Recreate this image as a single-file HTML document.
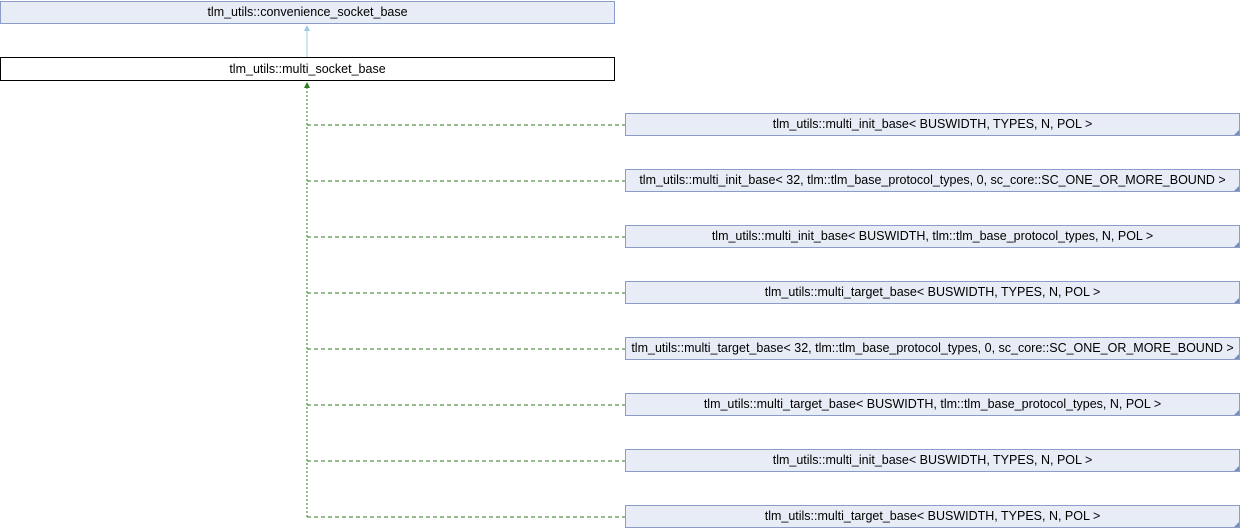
<!DOCTYPE html>
<html><head><style>
body{margin:0;width:1240px;height:528px;background:#fff;position:relative;overflow:hidden;font-family:"Liberation Sans",sans-serif;font-size:12.5px;}
.b{position:absolute;box-sizing:border-box;background:#e8ecf6;border:1px solid #8a9cc8;text-align:center;line-height:21px;color:#000;white-space:nowrap;}
.r{left:625px;width:615px;height:23px;}
.r:after{content:"";position:absolute;right:0;bottom:0;border-left:5px solid transparent;border-bottom:5px solid #7b8fc0;}
</style></head><body>
<div class="b" style="left:0;top:1px;width:615px;height:23px;">tlm_utils::convenience_socket_base</div>
<div class="b" style="left:0;top:57px;width:615px;height:24px;background:#fff;border-color:#000;line-height:22px;">tlm_utils::multi_socket_base</div>
<svg width="1240" height="528" style="position:absolute;left:0;top:0">
<line x1="307" y1="30" x2="307" y2="57" stroke="#9ccbe6"/>
<polygon points="307,25 304,31 310,31" fill="#9ccbe6"/>
<line x1="307" y1="87" x2="307" y2="517" stroke="#2e7d1e" stroke-dasharray="2,2"/>
<polygon points="307,82 304,88 310,88" fill="#2e7d1e"/>
<g stroke="#2e7d1e" stroke-dasharray="4,3">
<line x1="307" y1="125" x2="625" y2="125"/><line x1="307" y1="181" x2="625" y2="181"/>
<line x1="307" y1="237" x2="625" y2="237"/><line x1="307" y1="293" x2="625" y2="293"/>
<line x1="307" y1="349" x2="625" y2="349"/><line x1="307" y1="405" x2="625" y2="405"/>
<line x1="307" y1="461" x2="625" y2="461"/><line x1="307" y1="517" x2="625" y2="517"/>
</g></svg>
<div class="b r" style="top:113px">tlm_utils::multi_init_base&lt; BUSWIDTH, TYPES, N, POL &gt;</div>
<div class="b r" style="top:169px">tlm_utils::multi_init_base&lt; 32, tlm::tlm_base_protocol_types, 0, sc_core::SC_ONE_OR_MORE_BOUND &gt;</div>
<div class="b r" style="top:225px">tlm_utils::multi_init_base&lt; BUSWIDTH, tlm::tlm_base_protocol_types, N, POL &gt;</div>
<div class="b r" style="top:281px">tlm_utils::multi_target_base&lt; BUSWIDTH, TYPES, N, POL &gt;</div>
<div class="b r" style="top:337px">tlm_utils::multi_target_base&lt; 32, tlm::tlm_base_protocol_types, 0, sc_core::SC_ONE_OR_MORE_BOUND &gt;</div>
<div class="b r" style="top:393px">tlm_utils::multi_target_base&lt; BUSWIDTH, tlm::tlm_base_protocol_types, N, POL &gt;</div>
<div class="b r" style="top:449px">tlm_utils::multi_init_base&lt; BUSWIDTH, TYPES, N, POL &gt;</div>
<div class="b r" style="top:505px">tlm_utils::multi_target_base&lt; BUSWIDTH, TYPES, N, POL &gt;</div>
</body></html>
